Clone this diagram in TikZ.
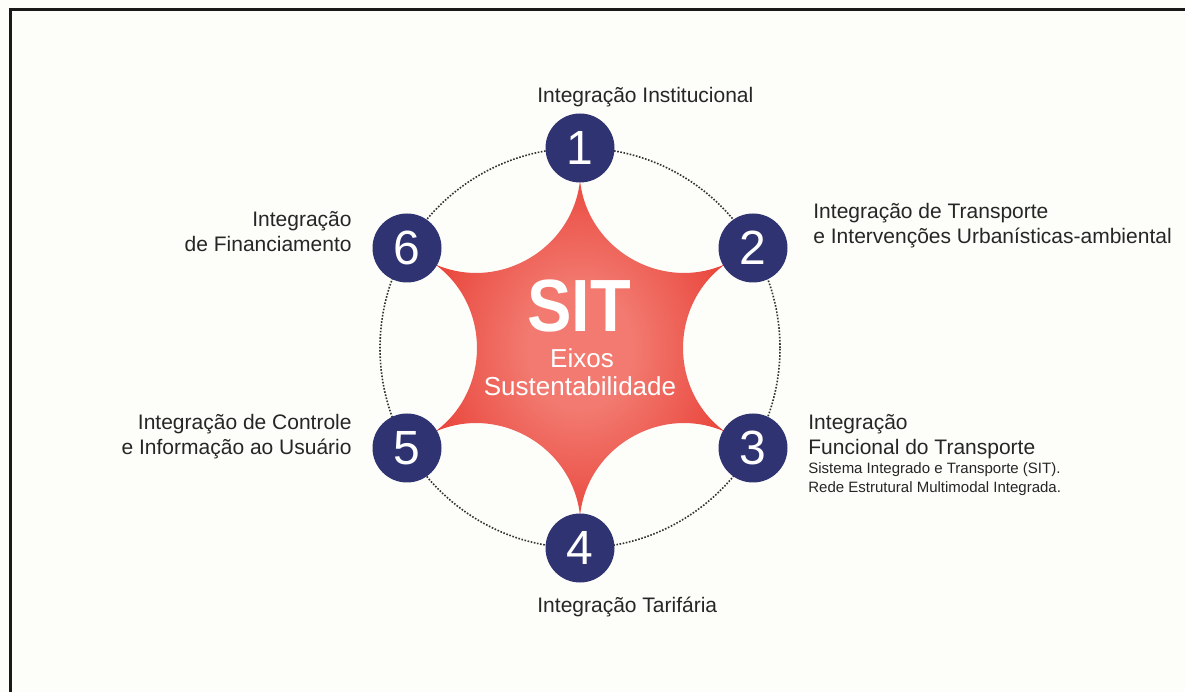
\documentclass[tikz,border=0pt]{standalone}
\usepackage{fontspec}
\setmainfont{Liberation Sans}
\definecolor{navy}{RGB}{47,51,113}
\definecolor{sitred}{RGB}{231,56,46}
\definecolor{sitlight}{RGB}{242,122,112}
\definecolor{bgc}{RGB}{253,253,250}
\pgfdeclareradialshading{starshade}{\pgfpoint{0bp}{0bp}}{color(0bp)=(sitlight); color(8bp)=(sitlight); color(28bp)=(sitred); color(50bp)=(sitred)}
\begin{document}
\begin{tikzpicture}[x=0.5pt,y=0.5pt,
  numc/.style={circle,fill=navy,minimum size=34.5pt,inner sep=0pt,text=white,font=\fontsize{24}{24}\selectfont},
  lbl/.style={font=\fontsize{10.5}{12}\selectfont,text=black!85,inner sep=0pt},
  ctext/.style={text=white,inner sep=0pt,anchor=base},
  ring/.style={draw=black!80,line width=0.8pt,dash pattern=on 0.8pt off 0.8pt}]
\fill[bgc] (0,0) rectangle (1185,692);
\useasboundingbox (0,0) rectangle (1185,692);
\draw[line width=1.5pt,black!90] (10,0) -- (10,682) -- (1185,682);
\coordinate (C) at (580,344);
\draw[ring] (C) circle (200);
\begin{scope}[shift={(C)}]
\path[shade,shading=starshade] (90:190)
  .. controls (95.2:101) and (24.8:101) .. (30:190)
  .. controls (35.2:101) and (-35.2:101) .. (-30:190)
  .. controls (-24.8:101) and (-95.2:101) .. (-90:190)
  .. controls (-84.8:101) and (-155.2:101) .. (-150:190)
  .. controls (-144.8:101) and (-215.2:101) .. (-210:190)
  .. controls (-204.8:101) and (-275.2:101) .. (-270:190) -- cycle;
\end{scope}
\node[numc] (n1) at (580,544) {1};
\node[numc] (n2) at (753,444) {2};
\node[numc] (n3) at (753,244) {3};
\node[numc] (n4) at (580,144) {4};
\node[numc] (n5) at (407,244) {5};
\node[numc] (n6) at (407,444) {6};
\node[ctext,font=\fontsize{37}{37}\selectfont\bfseries] (sit) at (579,360) {\scalebox{0.9}[1]{SIT}};
\node[ctext,font=\fontsize{13}{13}\selectfont] (eixos) at (582,324) {Eixos};
\node[ctext,font=\fontsize{13}{13}\selectfont] (sust) at (580,296) {Sustentabilidade};
\node[lbl,anchor=base west] (l1) at (537,589) {Integração Institucional};
\node[lbl,anchor=base west] (l2) at (813,473) {\begin{tabular}[t]{@{}l@{}}Integração de Transporte\\ e Intervenções Urbanísticas-ambiental\end{tabular}};
\node[lbl,anchor=base west] (l3) at (808,262) {\begin{tabular}[t]{@{}l@{}}Integração\\ Funcional do Transporte\\[-2pt] {\fontsize{7.5}{9}\selectfont Sistema Integrado e Transporte (SIT).}\\[-3pt] {\fontsize{7.5}{9}\selectfont Rede Estrutural Multimodal Integrada.}\end{tabular}};
\node[lbl,anchor=base west] (l4) at (537,80) {Integração Tarifária};
\node[lbl,anchor=base east] (l5) at (352,262) {\begin{tabular}[t]{@{}r@{}}Integração de Controle\\ e Informação ao Usuário\end{tabular}};
\node[lbl,anchor=base east] (l6) at (352,465) {\begin{tabular}[t]{@{}r@{}}Integração\\ de Financiamento\end{tabular}};
\end{tikzpicture}
\end{document}
